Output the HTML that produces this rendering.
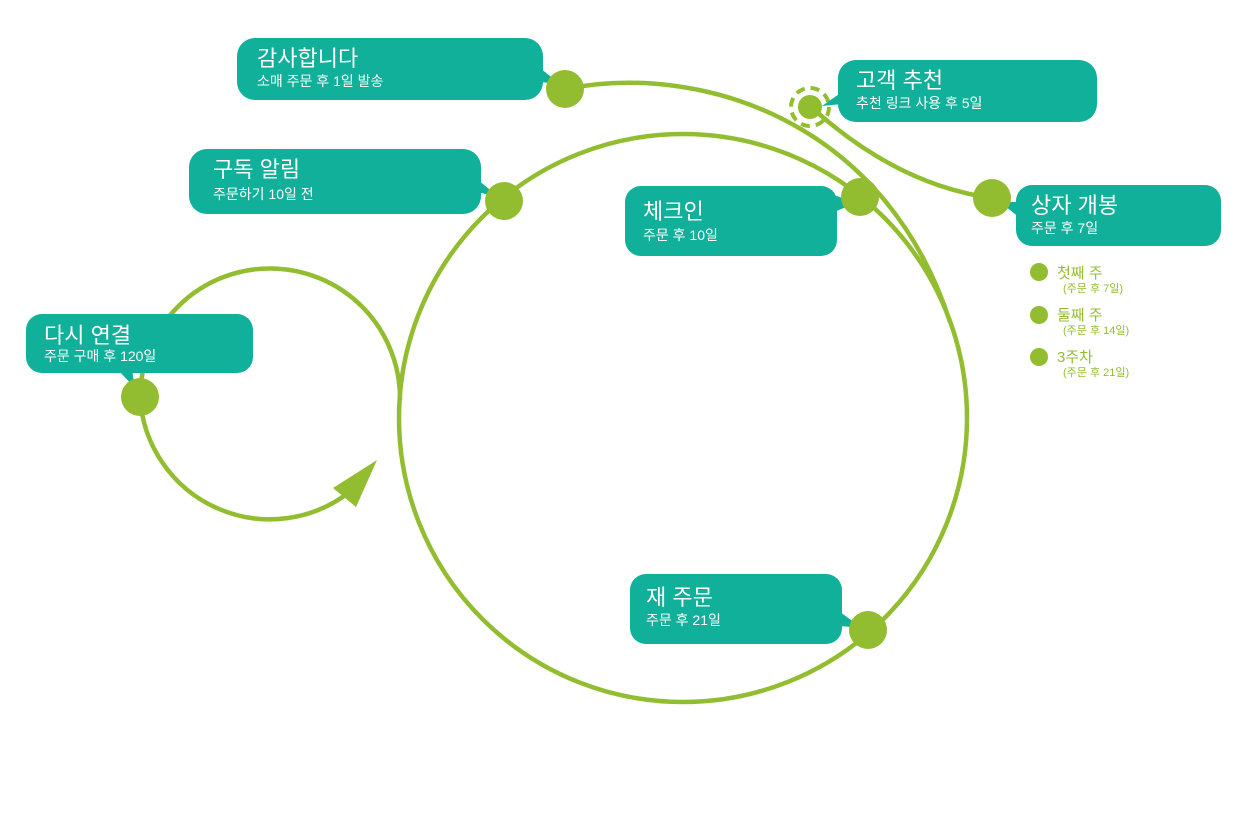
<!DOCTYPE html>
<html><head><meta charset="utf-8"><style>
body{margin:0;background:#fff;}
svg{display:block;font-family:"Liberation Sans","Noto Sans CJK KR",sans-serif;}
.t{fill:#fff;font-size:22px;}
.s{fill:#fff;font-size:14px;}
.g{fill:#93bd30;}
</style></head><body>
<svg width="1237" height="818" viewBox="0 0 1237 818">
<g fill="none" stroke="#93bd30" stroke-width="4.5">
<circle cx="683" cy="418" r="284"/>
<path d="M400,400 A130,130 0 1 0 140,397 A130,130 0 0 0 352,490"/>
<path d="M565,89 C700,62 885,120 950,322"/>
<path d="M818,113 Q900,185 992,198"/>
<circle cx="810" cy="107" r="19" stroke-width="4" stroke-dasharray="9 6"/>
</g>
<polygon points="377,460 333,488 356,507" fill="#93bd30"/>
<g fill="#10b09a">
<rect x="237" y="38" width="306" height="62" rx="18"/><polygon points="540,68 540,82 560,84"/>
<rect x="838" y="60" width="259" height="62" rx="18"/><polygon points="842,92 842,104 822,106"/>
<rect x="189" y="149" width="292" height="65" rx="18"/><polygon points="478,180 478,192 500,198"/>
<rect x="625" y="186" width="212" height="70" rx="16"/><polygon points="834,195 834,212 856,203"/>
<rect x="1016" y="185" width="205" height="61" rx="16"/><polygon points="1020,202 1020,218 1000,202"/>
<rect x="26" y="314" width="227" height="59" rx="16"/><polygon points="118,370 132,370 135,388"/>
<rect x="630" y="574" width="212" height="70" rx="16"/><polygon points="840,612 840,626 862,628"/>
</g>
<g fill="#93bd30">
<circle cx="565" cy="89" r="19"/>
<circle cx="810" cy="107" r="12"/>
<circle cx="504" cy="201" r="19"/>
<circle cx="860" cy="197" r="19"/>
<circle cx="992" cy="198" r="19"/>
<circle cx="140" cy="397" r="19"/>
<circle cx="868" cy="630" r="19"/>
<circle cx="1039" cy="272" r="9"/>
<circle cx="1039" cy="315" r="9"/>
<circle cx="1039" cy="357" r="9"/>
</g>
<text class="t" x="257" y="66">감사합니다</text><text class="s" x="257" y="86">소매 주문 후 1일 발송</text>
<text class="t" x="856" y="88">고객 추천</text><text class="s" x="856" y="108">추천 링크 사용 후 5일</text>
<text class="t" x="213" y="177">구독 알림</text><text class="s" x="213" y="199">주문하기 10일 전</text>
<text class="t" x="643" y="219">체크인</text><text class="s" x="643" y="240">주문 후 10일</text>
<text class="t" x="1031" y="213">상자 개봉</text><text class="s" x="1031" y="233">주문 후 7일</text>
<text class="t" x="44" y="343">다시 연결</text><text class="s" x="44" y="361">주문 구매 후 120일</text>
<text class="t" x="646" y="605">재 주문</text><text class="s" x="646" y="625">주문 후 21일</text>
<text class="g" x="1057" y="278" font-size="15">첫째 주</text><text class="g" x="1063" y="292" font-size="11">(주문 후 7일)</text>
<text class="g" x="1057" y="320" font-size="15">둘째 주</text><text class="g" x="1063" y="334" font-size="11">(주문 후 14일)</text>
<text class="g" x="1057" y="362" font-size="15">3주차</text><text class="g" x="1063" y="376" font-size="11">(주문 후 21일)</text>
</svg>
</body></html>
